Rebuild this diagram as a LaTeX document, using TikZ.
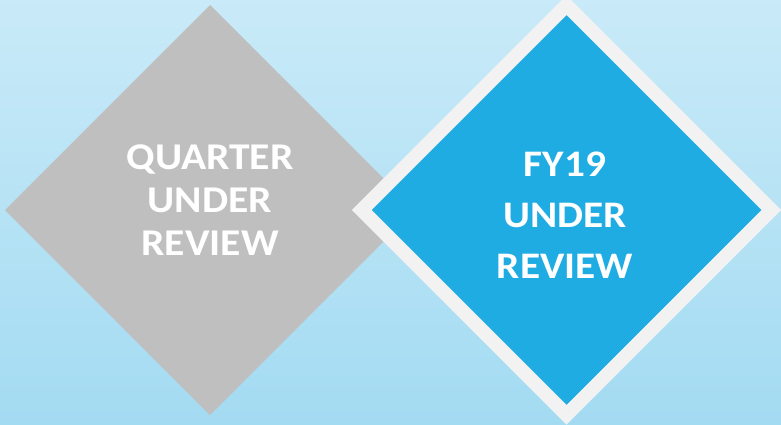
\documentclass[tikz,border=0pt]{standalone}
\usepackage{fontspec}
\setmainfont{Carlito}
\newfontfamily\widefont[FakeStretch=1.1]{Carlito}
\usetikzlibrary{shapes.geometric}
\definecolor{bgtop}{HTML}{C9EAF8}
\definecolor{bgbot}{HTML}{A3DBF2}
\definecolor{grayd}{HTML}{BFBFBF}
\definecolor{blued}{HTML}{1EACE3}
\definecolor{rimc}{HTML}{F2F2F2}
\tikzset{
  dia/.style={diamond, inner sep=0pt, outer sep=0pt},
  txt/.style={text=white, align=center, inner sep=0pt, anchor=north}
}
\begin{document}
\begin{tikzpicture}[x=1pt,y=-1pt]
\shade[top color=bgtop, bottom color=bgbot] (0,0) rectangle (781,425);
\useasboundingbox (0,0) rectangle (781,425);
\node[dia, fill=grayd, minimum width=410pt, minimum height=410pt] (q) at (210,210) {};
\node[dia, fill=blued, draw=rimc, line width=13.8pt, minimum width=409.5pt, minimum height=409.5pt] (f) at (566.5,210) {};
\node[txt, font=\widefont\fontsize{37.8}{43}\selectfont\bfseries] (qt) at (210,145) {QUARTER\\UNDER\\REVIEW};
\node[txt, font=\widefont\fontsize{37.5}{51}\selectfont\bfseries] (ft) at (565,151.7) {FY19\\UNDER\\REVIEW};
\end{tikzpicture}
\end{document}
